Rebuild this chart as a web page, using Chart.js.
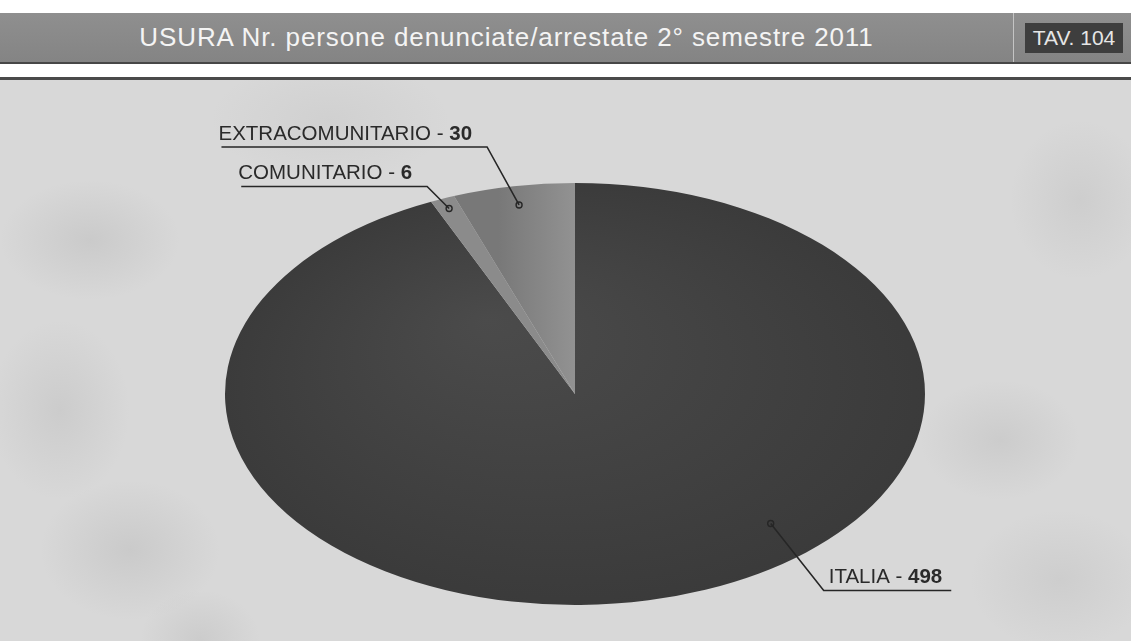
<!DOCTYPE html>
<html>
<head>
<meta charset="utf-8">
<script src="https://cdn.jsdelivr.net/npm/chart.js@4/dist/chart.umd.min.js"></script>
<style>
    html, body { margin: 0; padding: 0; }
    body {
        width: 1131px; height: 641px; position: relative; overflow: hidden;
        background: #ffffff;
        font-family: 'Liberation Sans', Arial, sans-serif;
    }
    .bar {
        position: absolute; left: 0; top: 13px; width: 1131px; height: 49px;
        background: linear-gradient(#8f8f8f, #848484);
        border-bottom: 2px solid #474747;
    }
    .bar .title {
        position: absolute; left: 0; width: 1013px; top: 0; height: 49px;
        line-height: 49px; text-align: center;
        color: #f4f4f4; font-size: 26px; letter-spacing: 0.9px;
    }
    .bar .sep {
        position: absolute; left: 1013px; top: 0; width: 1px; height: 49px; background: #c4c4c4;
    }
    .bar .tav {
        position: absolute; left: 1025px; top: 10px; width: 98px; height: 30px;
        background: #3e3e3e; color: #e6e6e6; font-size: 21px; line-height: 30px; text-align: center;
    }
    .rule {
        position: absolute; left: 0; top: 77px; width: 1131px; height: 3px; background: #4a4a4a;
    }
    .field {
        position: absolute; left: 0; top: 80px; width: 1131px; height: 561px;
        background:
            radial-gradient(ellipse 90px 60px at 90px 160px, rgba(130,130,130,0.16), rgba(130,130,130,0)),
            radial-gradient(ellipse 70px 90px at 60px 330px, rgba(130,130,130,0.14), rgba(130,130,130,0)),
            radial-gradient(ellipse 90px 70px at 130px 470px, rgba(130,130,130,0.16), rgba(130,130,130,0)),
            radial-gradient(ellipse 60px 50px at 200px 560px, rgba(130,130,130,0.14), rgba(130,130,130,0)),
            radial-gradient(ellipse 80px 60px at 1000px 360px, rgba(130,130,130,0.14), rgba(130,130,130,0)),
            radial-gradient(ellipse 70px 80px at 1080px 120px, rgba(130,130,130,0.12), rgba(130,130,130,0)),
            radial-gradient(ellipse 90px 70px at 1060px 500px, rgba(130,130,130,0.12), rgba(130,130,130,0)),
            radial-gradient(ellipse 120px 60px at 330px 40px, rgba(140,140,140,0.1), rgba(140,140,140,0)),
            #d8d8d8;
    }
    canvas { position: absolute; left: 0; top: 0; }
</style>
</head>
<body>
<div class="bar">
    <div class="title">USURA Nr. persone denunciate/arrestate 2° semestre 2011</div>
    <div class="sep"></div>
    <div class="tav">TAV. 104</div>
</div>
<div class="rule"></div>
<div class="field"></div>
<canvas id="pieChart" width="1131" height="641"></canvas>

<script>
// ========== dati ==========
const categories = ['ITALIA', 'COMUNITARIO', 'EXTRACOMUNITARIO'];
const values = [498, 6, 30];
const sliceColors = ['#434343', '#8b8b8b', '#7d7d7d'];

// pie is drawn as a circle then stretched horizontally into an ellipse
const STRETCH_X = 350 / 211;

// label placement: where the dot sits inside the slice, and where the elbow goes
const labelAngleFrac = [0.41, 0.5, 0.5];
const labelRadiusFrac = [0.83, 0.95, 0.91];
const labelElbow = [[53, 67], [-22, -22], [-32, -58]];

/**
 * riempimento delle fette con leggera sfumatura
 */
function sliceFill(context) {
    const i = context.dataIndex;
    const chart = context.chart;
    const area = chart.chartArea;
    if (!area) return sliceColors[i];
    const c = chart.ctx;
    const cx = (area.left + area.right) / 2;
    const cy = (area.top + area.bottom) / 2;
    const r = Math.min(area.right - area.left, area.bottom - area.top) / 2;
    if (i === 0) {
        const g = c.createRadialGradient(cx - r * 0.25, cy - r * 0.35, 0, cx, cy, r * 1.05);
        g.addColorStop(0, '#4b4b4b');
        g.addColorStop(1, '#3a3a3a');
        return g;
    }
    if (i === 2) {
        const g = c.createLinearGradient(cx - r * 0.22, 0, cx, 0);
        g.addColorStop(0, '#787878');
        g.addColorStop(1, '#929292');
        return g;
    }
    return sliceColors[i];
}

const ellipsePlugin = {
    id: 'ellipse',
    beforeDatasetsDraw(chart) {
        const arc = chart.getDatasetMeta(0).data[0];
        if (!arc) return;
        const ctx = chart.ctx;
        ctx.save();
        ctx.translate(arc.x, 0);
        ctx.scale(STRETCH_X, 1);
        ctx.translate(-arc.x, 0);
    },
    afterDatasetsDraw(chart) {
        chart.ctx.restore();
    }
};

const labelsPlugin = {
    id: 'leaderLabels',
    afterDraw(chart) {
        const ctx = chart.ctx;
        const meta = chart.getDatasetMeta(0);
        const normalFont = '20.5px "Liberation Sans", Arial, sans-serif';
        const boldFont = 'bold 20.5px "Liberation Sans", Arial, sans-serif';

        meta.data.forEach((arc, i) => {
            const a = arc.startAngle + (arc.endAngle - arc.startAngle) * labelAngleFrac[i];
            const r = arc.outerRadius * labelRadiusFrac[i];
            const dx = arc.x + Math.cos(a) * r * STRETCH_X;
            const dy = arc.y + Math.sin(a) * r;
            const ex = dx + labelElbow[i][0];
            const ey = dy + labelElbow[i][1];

            const partA = categories[i] + ' - ';
            const partB = String(values[i]);
            ctx.font = normalFont;
            const wA = ctx.measureText(partA).width;
            ctx.font = boldFont;
            const wB = ctx.measureText(partB).width;
            const tw = wA + wB;
            const goRight = labelElbow[i][0] > 0;
            const lineStart = goRight ? ex : ex - (tw + 12);
            const lineEnd = goRight ? ex + tw + 14 : ex;
            const textX = goRight ? ex + 5 : lineStart - 3;

            ctx.save();
            ctx.strokeStyle = '#262626';
            ctx.lineWidth = 1.6;
            ctx.beginPath();
            ctx.moveTo(dx, dy);
            ctx.lineTo(ex, ey);
            ctx.lineTo(goRight ? lineEnd : lineStart, ey);
            ctx.stroke();

            ctx.beginPath();
            ctx.arc(dx, dy, 3, 0, Math.PI * 2);
            ctx.lineWidth = 1.4;
            ctx.stroke();

            ctx.fillStyle = '#2a2a2a';
            ctx.textBaseline = 'alphabetic';
            ctx.textAlign = 'left';
            ctx.font = normalFont;
            ctx.fillText(partA, textX, ey - 7);
            ctx.font = boldFont;
            ctx.fillText(partB, textX + wA, ey - 7);
            ctx.restore();
        });
    }
};

const ctx = document.getElementById('pieChart').getContext('2d');
new Chart(ctx, {
    type: 'pie',
    data: {
        labels: categories,
        datasets: [{
            data: values,
            backgroundColor: sliceFill,
            borderWidth: 0
        }]
    },
    options: {
        responsive: false,
        animation: false,
        layout: { padding: { top: 183, bottom: 36, left: 19, right: 0 } },
        plugins: {
            legend: { display: false },
            tooltip: { enabled: false }
        }
    },
    plugins: [ellipsePlugin, labelsPlugin]
});
</script>
</body>
</html>
